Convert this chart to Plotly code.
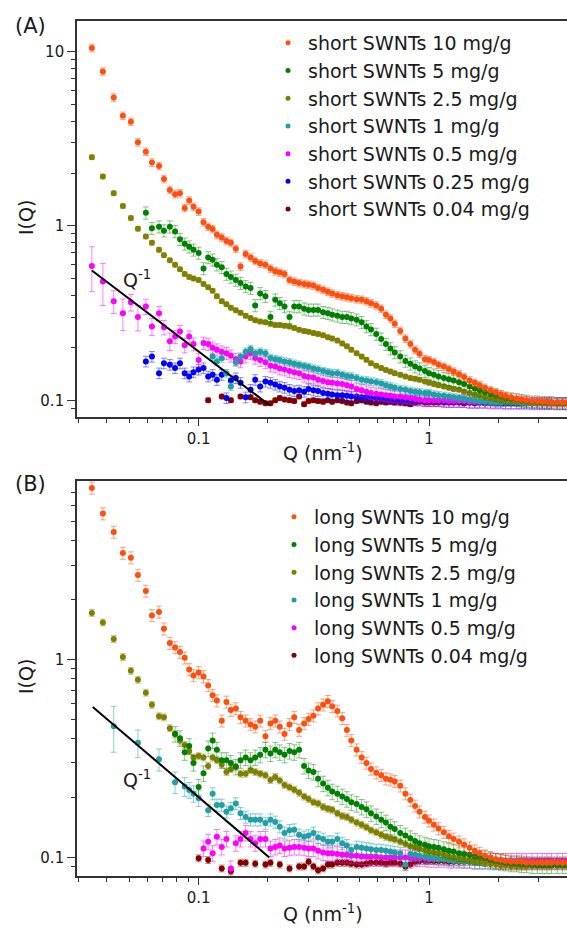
import plotly.graph_objects as go

N = None

# shared Q grid (nm^-1) for both panels
Q = [
    0.0344, 0.0384, 0.0428, 0.0469, 0.0508, 0.0545, 0.059, 0.0627, 0.0673, 0.0707,
    0.075, 0.079, 0.083, 0.087, 0.091, 0.095, 0.100, 0.105, 0.110, 0.115,
    0.120, 0.126, 0.132, 0.138, 0.145, 0.152, 0.160, 0.168, 0.176, 0.185,
    0.195, 0.205, 0.215, 0.225, 0.236, 0.248, 0.260, 0.273, 0.287, 0.300,
    0.315, 0.330, 0.347, 0.364, 0.380, 0.400, 0.420, 0.440, 0.460, 0.485,
    0.510, 0.535, 0.560, 0.590, 0.620, 0.650, 0.680, 0.710, 0.750, 0.790,
    0.830, 0.870, 0.910, 0.960, 1.00, 1.05, 1.10, 1.16, 1.22, 1.28,
    1.35, 1.42, 1.50, 1.58, 1.66, 1.75, 1.85, 1.95, 2.05, 2.15,
    2.27, 2.40, 2.52, 2.65, 2.80, 2.95, 3.10, 3.25, 3.40, 3.60,
    3.80, 4.00,
]

# (A) short SWNTs
SHORT_10 = [
    10.5, 7.7, 5.46, 4.29, 3.96, 3.02, 2.67, 2.31, 2.21, 1.86,
    1.61, 1.52, 1.54, 1.27, 1.40, 1.29, 1.21, 1.05, 0.99, 0.96,
    0.89, 0.86, 0.82, 0.80, 0.74, 0.585, 0.69, 0.66, 0.63, 0.61,
    0.60, 0.57, 0.55, 0.54, 0.53, 0.49, 0.48, 0.47, 0.465, 0.46,
    0.455, 0.44, 0.43, 0.42, 0.41, 0.40, 0.395, 0.39, 0.385, 0.38,
    0.377, 0.37, 0.36, 0.35, 0.335, 0.31, 0.295, 0.275, 0.25, 0.226,
    0.21, 0.195, 0.185, 0.172, 0.17, 0.166, 0.16, 0.156, 0.151, 0.146,
    0.141, 0.136, 0.13, 0.126, 0.122, 0.118, 0.114, 0.111, 0.108, 0.106,
    0.104, 0.102, 0.101, 0.1, 0.099, 0.099, 0.098, 0.098, 0.097, 0.097,
    0.097, 0.097,
]
SHORT_5 = [
    N, N, N, N, N, N, 1.19, 0.97, 0.99, 0.94,
    0.99, 0.93, 0.84, 0.79, 0.76, 0.73, 0.70, 0.57, 0.66, 0.64,
    0.60, 0.58, 0.53, 0.51, 0.49, 0.47, 0.45, 0.44, 0.35, 0.41,
    0.395, 0.30, 0.377, 0.36, 0.345, 0.30, 0.345, 0.345, 0.335, 0.33,
    0.33, 0.33, 0.32, 0.316, 0.31, 0.305, 0.30, 0.30, 0.295, 0.29,
    0.28, 0.265, 0.255, 0.24, 0.225, 0.21, 0.198, 0.188, 0.178, 0.168,
    0.162, 0.156, 0.152, 0.147, 0.143, 0.14, 0.137, 0.134, 0.132, 0.13,
    0.127, 0.124, 0.12, 0.117, 0.114, 0.111, 0.109, 0.107, 0.105, 0.103,
    0.102, 0.101, 0.1, 0.099, 0.098, 0.098, 0.097, 0.097, 0.097, 0.096,
    0.096, 0.096,
]
SHORT_2_5 = [
    2.48, 1.92, 1.54, 1.30, 1.11, 0.965, 0.87, 0.80, 0.73, 0.68,
    0.635, 0.60, 0.565, 0.53, 0.51, 0.50, 0.49, 0.465, 0.445, 0.425,
    0.395, 0.37, 0.355, 0.34, 0.328, 0.318, 0.305, 0.296, 0.288, 0.283,
    0.28, 0.275, 0.27, 0.27, 0.268, 0.265, 0.26, 0.254, 0.25, 0.247,
    0.243, 0.24, 0.236, 0.23, 0.226, 0.22, 0.212, 0.204, 0.195, 0.186,
    0.178, 0.171, 0.163, 0.158, 0.153, 0.149, 0.146, 0.143, 0.14, 0.137,
    0.134, 0.133, 0.131, 0.128, 0.126, 0.124, 0.122, 0.12, 0.118, 0.116,
    0.115, 0.112, 0.11, 0.108, 0.106, 0.104, 0.103, 0.102, 0.101, 0.1,
    0.099, 0.099, 0.098, 0.098, 0.097, 0.097, 0.097, 0.097, 0.096, 0.096,
    0.096, 0.096,
]
SHORT_1 = [
    N, N, N, N, N, N, N, N, N, N,
    N, N, N, N, N, N, N, N, N, 0.178,
    0.167, 0.174, 0.143, 0.12, 0.165, 0.178, 0.19, 0.197, 0.186, 0.19,
    0.186, 0.175, 0.172, 0.17, 0.167, 0.165, 0.162, 0.16, 0.157, 0.155,
    0.152, 0.15, 0.147, 0.145, 0.143, 0.143, 0.14, 0.138, 0.137, 0.134,
    0.131, 0.13, 0.128, 0.127, 0.125, 0.122, 0.12, 0.118, 0.116, 0.115,
    0.113, 0.112, 0.111, 0.11, 0.11, 0.108, 0.107, 0.106, 0.105, 0.104,
    0.103, 0.102, 0.101, 0.1, 0.099, 0.098, 0.098, 0.097, 0.097, 0.097,
    0.097, 0.097, 0.096, 0.096, 0.096, 0.096, 0.096, 0.096, 0.096, 0.096,
    0.096, 0.096,
]
SHORT_0_5 = [
    0.59, 0.48, 0.37, 0.316, 0.365, 0.30, 0.345, 0.265, 0.316, 0.262,
    0.218, 0.232, 0.248, 0.207, 0.232, 0.21, 0.17, 0.213, 0.21, 0.20,
    0.195, 0.19, 0.186, 0.18, 0.172, 0.167, 0.178, 0.186, 0.175, 0.17,
    0.165, 0.158, 0.156, 0.152, 0.15, 0.147, 0.145, 0.143, 0.138, 0.136,
    0.135, 0.131, 0.129, 0.127, 0.126, 0.125, 0.124, 0.122, 0.12, 0.116,
    0.114, 0.112, 0.11, 0.109, 0.108, 0.107, 0.106, 0.105, 0.105, 0.104,
    0.103, 0.102, 0.101, 0.1, 0.1, 0.1, 0.1, 0.1, 0.099, 0.099,
    0.099, 0.099, 0.098, 0.098, 0.098, 0.098, 0.097, 0.097, 0.097, 0.097,
    0.097, 0.097, 0.097, 0.097, 0.096, 0.096, 0.096, 0.096, 0.096, 0.096,
    0.096, 0.096,
]
SHORT_0_25 = [
    N, N, N, N, N, N, 0.167, 0.178, 0.143, 0.163,
    0.16, 0.153, 0.163, 0.143, 0.137, 0.145, 0.15, 0.153, 0.137, 0.14,
    0.131, 0.14, 0.103, 0.13, 0.134, 0.126, 0.104, 0.115, 0.131, 0.12,
    0.128, 0.126, 0.123, 0.12, 0.118, 0.115, 0.113, 0.114, 0.112, 0.116,
    0.114, 0.113, 0.11, 0.109, 0.108, 0.107, 0.107, 0.106, 0.105, 0.105,
    0.104, 0.104, 0.103, 0.103, 0.103, 0.102, 0.102, 0.101, 0.1, 0.1,
    0.1, 0.1, 0.1, 0.099, 0.099, 0.099, 0.099, 0.098, 0.098, 0.098,
    0.098, 0.098, 0.097, 0.097, 0.097, 0.097, 0.097, 0.097, 0.097, 0.096,
    0.096, 0.096, 0.096, 0.096, 0.096, 0.096, 0.096, 0.096, 0.096, 0.096,
    0.096, 0.096,
]
SHORT_0_04 = [
    N, N, N, N, N, N, N, N, N, N,
    N, N, N, N, N, N, N, N, 0.1, N,
    N, 0.105, N, 0.1, N, 0.105, N, 0.104, 0.1, 0.098,
    0.096, 0.096, 0.1, 0.103, 0.101, 0.1, 0.099, 0.105, 0.095, 0.099,
    0.1, 0.099, 0.098, 0.1, 0.098, 0.1, 0.099, 0.097, 0.096, 0.099,
    0.1, 0.098, 0.097, 0.096, 0.098, 0.097, 0.098, 0.097, 0.097, 0.096,
    0.095, 0.097, 0.098, 0.097, 0.097, 0.097, 0.097, 0.097, 0.097, 0.097,
    0.097, 0.096, 0.097, 0.096, 0.097, 0.096, 0.096, 0.096, 0.096, 0.096,
    0.096, 0.096, 0.096, 0.096, 0.096, 0.096, 0.096, 0.096, 0.096, 0.096,
    0.096, 0.096,
]

# (B) long SWNTs
LONG_10 = [
    7.36, 5.46, 4.41, 3.45, 3.27, 2.67, 2.22, 1.67, 1.74, 1.43,
    1.21, 1.15, 1.09, 1.02, 0.89, 0.83, 0.86, 0.82, 0.74, 0.66,
    0.62, 0.49, 0.61, 0.555, 0.565, 0.51, 0.49, 0.47, 0.457, 0.49,
    0.41, 0.475, 0.49, 0.457, 0.42, 0.47, 0.51, 0.44, 0.475, 0.50,
    0.52, 0.565, 0.59, 0.615, 0.58, 0.55, 0.505, 0.44, 0.39, 0.35,
    0.32, 0.30, 0.28, 0.268, 0.26, 0.25, 0.247, 0.242, 0.23, 0.21,
    0.195, 0.182, 0.17, 0.16, 0.153, 0.146, 0.14, 0.134, 0.128, 0.124,
    0.12, 0.116, 0.112, 0.108, 0.105, 0.102, 0.1, 0.098, 0.097, 0.096,
    0.095, 0.095, 0.095, 0.094, 0.094, 0.094, 0.094, 0.094, 0.094, 0.094,
    0.094, 0.094,
]
LONG_5 = [
    N, N, N, N, N, N, N, N, N, N,
    N, 0.42, 0.40, 0.34, 0.365, 0.30, 0.227, 0.266, 0.355, 0.39,
    0.35, 0.31, 0.31, 0.30, 0.287, 0.31, 0.32, 0.31, 0.32, 0.33,
    0.35, 0.335, 0.35, 0.34, 0.33, 0.345, 0.34, 0.35, 0.29, 0.275,
    0.27, 0.25, 0.236, 0.225, 0.215, 0.21, 0.203, 0.197, 0.19, 0.186,
    0.18, 0.175, 0.167, 0.161, 0.155, 0.15, 0.143, 0.139, 0.133, 0.129,
    0.125, 0.121, 0.118, 0.116, 0.114, 0.113, 0.112, 0.11, 0.108, 0.107,
    0.105, 0.104, 0.103, 0.101, 0.1, 0.099, 0.097, 0.096, 0.095, 0.094,
    0.093, 0.093, 0.092, 0.092, 0.091, 0.091, 0.091, 0.091, 0.091, 0.091,
    0.091, 0.091,
]
LONG_2_5 = [
    1.72, 1.54, 1.27, 1.03, 0.877, 0.79, 0.68, 0.59, 0.517, 0.51,
    0.45, 0.42, 0.39, 0.37, 0.345, 0.32, 0.325, 0.32, 0.29, 0.32,
    0.31, 0.295, 0.27, 0.28, 0.287, 0.265, 0.265, 0.276, 0.27, 0.265,
    0.26, 0.246, 0.255, 0.245, 0.232, 0.226, 0.22, 0.212, 0.203, 0.197,
    0.19, 0.187, 0.18, 0.176, 0.174, 0.167, 0.162, 0.16, 0.155, 0.15,
    0.146, 0.142, 0.137, 0.134, 0.13, 0.127, 0.125, 0.123, 0.12, 0.117,
    0.114, 0.113, 0.111, 0.109, 0.107, 0.106, 0.105, 0.103, 0.101, 0.1,
    0.099, 0.098, 0.097, 0.096, 0.095, 0.094, 0.093, 0.092, 0.091, 0.091,
    0.09, 0.09, 0.09, 0.09, 0.091, 0.091, 0.091, 0.091, 0.091, 0.091,
    0.091, 0.091,
]
LONG_1 = [
    N, N, 0.46, N, N, 0.38, N, N, 0.313, N,
    N, 0.24, N, 0.228, 0.219, 0.21, 0.199, N, 0.173, 0.21,
    0.184, 0.184, 0.17, 0.177, 0.187, 0.167, 0.16, 0.155, 0.155, 0.155,
    0.149, 0.155, 0.151, 0.143, 0.133, 0.137, 0.138, 0.13, 0.127, 0.129,
    0.133, 0.126, 0.124, 0.12, 0.12, 0.124, 0.118, 0.115, 0.109, 0.113,
    0.112, 0.111, 0.11, 0.109, 0.109, 0.108, 0.107, 0.106, 0.105, 0.092,
    0.104, 0.103, 0.102, 0.101, 0.1, 0.099, 0.098, 0.098, 0.097, 0.096,
    0.096, 0.095, 0.095, 0.094, 0.094, 0.094, 0.093, 0.093, 0.093, 0.093,
    0.093, 0.093, 0.093, 0.093, 0.093, 0.093, 0.093, 0.093, 0.093, 0.093,
    0.093, 0.093,
]
LONG_0_5 = [
    N, N, N, N, N, N, N, N, N, N,
    N, N, N, N, N, N, N, 0.111, 0.12, 0.105,
    0.127, 0.113, 0.124, 0.088, 0.118, 0.124, 0.133, 0.124, 0.118, 0.124,
    0.124, 0.111, 0.113, 0.115, 0.111, 0.112, 0.113, 0.113, 0.112, 0.111,
    0.111, 0.108, 0.106, 0.105, 0.105, 0.104, 0.103, 0.103, 0.102, 0.102,
    0.101, 0.101, 0.101, 0.101, 0.1, 0.1, 0.1, 0.1, 0.1, 0.1,
    0.099, 0.099, 0.099, 0.099, 0.098, 0.098, 0.098, 0.098, 0.097, 0.097,
    0.097, 0.097, 0.097, 0.096, 0.096, 0.096, 0.096, 0.096, 0.096, 0.096,
    0.096, 0.096, 0.096, 0.096, 0.096, 0.096, 0.096, 0.096, 0.096, 0.096,
    0.096, 0.096,
]
LONG_0_04 = [
    N, N, N, N, N, N, N, N, N, N,
    N, N, N, N, N, N, 0.099, N, 0.097, N,
    N, 0.088, N, 0.085, N, 0.094, 0.094, N, 0.093, N,
    0.092, 0.094, N, 0.092, N, 0.088, N, 0.09, 0.09, 0.095,
    0.09, 0.086, 0.088, 0.092, 0.092, 0.094, 0.094, 0.094, 0.093, 0.092,
    0.092, 0.093, 0.094, 0.094, 0.094, 0.093, 0.094, 0.094, 0.093, 0.09,
    0.092, 0.095, 0.096, 0.096, 0.096, 0.096, 0.096, 0.096, 0.095, 0.095,
    0.095, 0.095, 0.095, 0.095, 0.095, 0.095, 0.095, 0.095, 0.095, 0.095,
    0.095, 0.095, 0.095, 0.095, 0.095, 0.095, 0.095, 0.095, 0.095, 0.095,
    0.095, 0.095,
]

SHORT_REL_ERR = [0.05, 0.08, 0.03, 0.05, 0.08, 0.07, 0.03]
LONG_REL_ERR = [0.07, 0.09, 0.04, 0.07, 0.09, 0.04]
SHORT_0_5_ERR_LOW = [0.17, 0.13, 0.055, 0.065, 0.04, 0.05, 0.035, 0.03, 0.03, 0.025,
                     0.025, 0.02, 0.02, 0.02, 0.018, 0.018, 0.015]
LONG_1_ERR_LOW = [N, N, 0.12, N, N, 0.06, N, N, 0.04, N,
                  N, 0.03, N, 0.025, 0.02, 0.02, 0.018]

SHORT_LABELS = ["short SWNTs 10 mg/g", "short SWNTs 5 mg/g", "short SWNTs 2.5 mg/g",
                "short SWNTs 1 mg/g", "short SWNTs 0.5 mg/g", "short SWNTs 0.25 mg/g",
                "short SWNTs 0.04 mg/g"]
LONG_LABELS = ["long SWNTs 10 mg/g", "long SWNTs 5 mg/g", "long SWNTs 2.5 mg/g",
               "long SWNTs 1 mg/g", "long SWNTs 0.5 mg/g", "long SWNTs 0.04 mg/g"]

# Q^-1 guide lines
GUIDE_SHORT_Q = [0.0344, 0.2026]
GUIDE_SHORT_I = [0.555, 0.094]
GUIDE_LONG_Q = [0.0347, 0.2026]
GUIDE_LONG_I = [0.576, 0.100]

X_TICKS = [0.1, 1]
X_MINOR = [0.03, 0.04, 0.05, 0.06, 0.07, 0.08, 0.09,
           0.2, 0.3, 0.4, 0.5, 0.6, 0.7, 0.8, 0.9, 2, 3]
Y_TICKS_A = [0.1, 1, 10]
Y_MINOR_A = [0.09, 0.2, 0.3, 0.4, 0.5, 0.6, 0.7, 0.8, 0.9, 2, 3, 4, 5, 6, 7, 8, 9]
Y_TICKS_B = [0.1, 1]
Y_MINOR_B = [0.09, 0.2, 0.3, 0.4, 0.5, 0.6, 0.7, 0.8, 0.9, 2, 3, 4, 5, 6, 7]

COLORS = {
    "10": ("#ff4f0f", "rgba(255,79,15,0.5)"),
    "5": ("#008000", "rgba(0,128,0,0.45)"),
    "2.5": ("#808000", "rgba(128,128,0,0.45)"),
    "1": ("#20a0a6", "rgba(32,160,166,0.5)"),
    "0.5": ("#ff00ff", "rgba(255,0,255,0.5)"),
    "0.25": ("#0000ff", "rgba(0,0,255,0.45)"),
    "0.04": ("#800000", "rgba(128,0,0,0.45)"),
}

FONT = "DejaVu Sans"
TEXT = "#1a1a1a"
AXIS = "#333333"

W, H = 567, 929
ML, MR, MT, MB = 77, 0, 21, 53
PLOT_H = H - MT - MB
PLOT_W = W - ML - MR


def px_x(x):
    return (x - ML) / PLOT_W


def px_y(y):
    return (H - MB - y) / PLOT_H


def error_values(values, rel, low=None):
    out = []
    for i, v in enumerate(values):
        if v is None:
            out.append(None)
        elif low is not None and i < len(low) and low[i] is not None:
            out.append(low[i])
        else:
            out.append(round(v * rel, 4))
    return out


def add_panel(fig, series, xa, ya, legend):
    # lowest concentration first so the strong curves sit on top
    for label, values, key, rel, low in reversed(series):
        assert len(values) == len(Q), label
        color, ecolor = COLORS[key]
        fig.add_trace(go.Scatter(
            x=Q, y=values, mode="markers", xaxis=xa, yaxis=ya, showlegend=False,
            marker=dict(size=6, color=color, line=dict(width=0)),
            error_y=dict(type="data", array=error_values(values, rel, low),
                         color=ecolor, thickness=1, width=3),
            name=label,
        ))
    for label, values, key, rel, low in series:
        fig.add_trace(go.Scatter(
            x=[None], y=[None], mode="markers", xaxis=xa, yaxis=ya,
            marker=dict(size=5, color=COLORS[key][0]), name=label, legend=legend,
        ))


short_series = [
    (SHORT_LABELS[0], SHORT_10, "10", SHORT_REL_ERR[0], None),
    (SHORT_LABELS[1], SHORT_5, "5", SHORT_REL_ERR[1], None),
    (SHORT_LABELS[2], SHORT_2_5, "2.5", SHORT_REL_ERR[2], None),
    (SHORT_LABELS[3], SHORT_1, "1", SHORT_REL_ERR[3], None),
    (SHORT_LABELS[4], SHORT_0_5, "0.5", SHORT_REL_ERR[4], SHORT_0_5_ERR_LOW),
    (SHORT_LABELS[5], SHORT_0_25, "0.25", SHORT_REL_ERR[5], None),
    (SHORT_LABELS[6], SHORT_0_04, "0.04", SHORT_REL_ERR[6], None),
]
long_series = [
    (LONG_LABELS[0], LONG_10, "10", LONG_REL_ERR[0], None),
    (LONG_LABELS[1], LONG_5, "5", LONG_REL_ERR[1], None),
    (LONG_LABELS[2], LONG_2_5, "2.5", LONG_REL_ERR[2], None),
    (LONG_LABELS[3], LONG_1, "1", LONG_REL_ERR[3], LONG_1_ERR_LOW),
    (LONG_LABELS[4], LONG_0_5, "0.5", LONG_REL_ERR[4], None),
    (LONG_LABELS[5], LONG_0_04, "0.04", LONG_REL_ERR[5], None),
]

fig = go.Figure()
add_panel(fig, short_series, "x", "y", "legend")
add_panel(fig, long_series, "x2", "y2", "legend2")

for q, i, xa, ya in [(GUIDE_SHORT_Q, GUIDE_SHORT_I, "x", "y"),
                     (GUIDE_LONG_Q, GUIDE_LONG_I, "x2", "y2")]:
    fig.add_trace(go.Scatter(x=q, y=i, mode="lines", xaxis=xa, yaxis=ya,
                             line=dict(color="black", width=2), showlegend=False))


def x_axis(anchor):
    return dict(
        type="log", range=[-1.528, 0.599], anchor=anchor, domain=[0, 1],
        tickvals=X_TICKS, ticktext=["0.1", "1"], ticks="outside", ticklen=7,
        tickwidth=1.3, tickcolor=AXIS,
        minor=dict(tickvals=X_MINOR, ticks="outside", ticklen=4, tickwidth=1.1,
                   tickcolor=AXIS, showgrid=False),
        showline=True, linecolor=AXIS, linewidth=1.6, mirror=True,
        showgrid=False, zeroline=False,
        tickfont=dict(family=FONT, size=15, color=TEXT),
    )


def y_axis(anchor, rng, domain, ticks, minor):
    return dict(
        type="log", range=rng, anchor=anchor, domain=domain,
        tickvals=ticks, ticktext=[("%g" % t) for t in ticks], ticks="outside",
        ticklen=8, tickwidth=1.3, tickcolor=AXIS,
        minor=dict(tickvals=minor, ticks="outside", ticklen=4, tickwidth=1.1,
                   tickcolor=AXIS, showgrid=False),
        showline=True, linecolor=AXIS, linewidth=1.6, mirror=False,
        showgrid=False, zeroline=False,
        tickfont=dict(family=FONT, size=15, color=TEXT),
    )


legend_style = dict(
    xanchor="left", yanchor="top", bgcolor="rgba(0,0,0,0)", borderwidth=0,
    font=dict(family=FONT, size=19, color=TEXT), tracegroupgap=0,
)

annotations = [
    dict(text="(A)", x=px_x(13), y=px_y(26), xanchor="left", yanchor="middle",
         font=dict(size=21)),
    dict(text="(B)", x=px_x(13), y=px_y(484), xanchor="left", yanchor="middle",
         font=dict(size=21)),
    dict(text="I(Q)", x=px_x(26), y=px_y(218), textangle=-90, xanchor="center",
         yanchor="middle", font=dict(size=19)),
    dict(text="I(Q)", x=px_x(26), y=px_y(677), textangle=-90, xanchor="center",
         yanchor="middle", font=dict(size=19)),
    dict(text="Q (nm<sup>-1</sup>)", x=px_x(323), y=px_y(452), xanchor="center",
         yanchor="middle", font=dict(size=19)),
    dict(text="Q (nm<sup>-1</sup>)", x=px_x(323), y=px_y(913), xanchor="center",
         yanchor="middle", font=dict(size=19)),
]
for a in annotations:
    a.update(xref="paper", yref="paper", showarrow=False)
    a["font"].update(family=FONT, color=TEXT)

annotations += [
    dict(text="Q<sup>-1</sup>", x=-1.335, y=-0.305, xref="x", yref="y",
         xanchor="left", yanchor="middle", showarrow=False,
         font=dict(family=FONT, size=19, color=TEXT)),
    dict(text="Q<sup>-1</sup>", x=-1.335, y=-0.605, xref="x2", yref="y2",
         xanchor="left", yanchor="middle", showarrow=False,
         font=dict(family=FONT, size=19, color=TEXT)),
]

top_domain = [px_y(417), 1]
bottom_domain = [0, px_y(481)]

fig.update_layout(
    width=W, height=H,
    margin=dict(l=ML, r=MR, t=MT, b=MB),
    paper_bgcolor="white", plot_bgcolor="white",
    font=dict(family=FONT, size=15, color=TEXT),
    xaxis=x_axis("y"),
    xaxis2=x_axis("y2"),
    yaxis=y_axis("x", [-1.096, 1.176], top_domain, Y_TICKS_A, Y_MINOR_A),
    yaxis2=y_axis("x2", [-1.094, 0.902], bottom_domain, Y_TICKS_B, Y_MINOR_B),
    legend=dict(x=px_x(268), y=px_y(24), **legend_style),
    legend2=dict(x=px_x(274), y=px_y(498), **legend_style),
    annotations=annotations,
)

# drop the browser's default body margin so the figure sits at the page origin
fig.write_html(
    "out.html",
    config={"displayModeBar": False},
    post_script="document.body.style.margin='0';"
                "document.documentElement.style.overflow='hidden';",
)
